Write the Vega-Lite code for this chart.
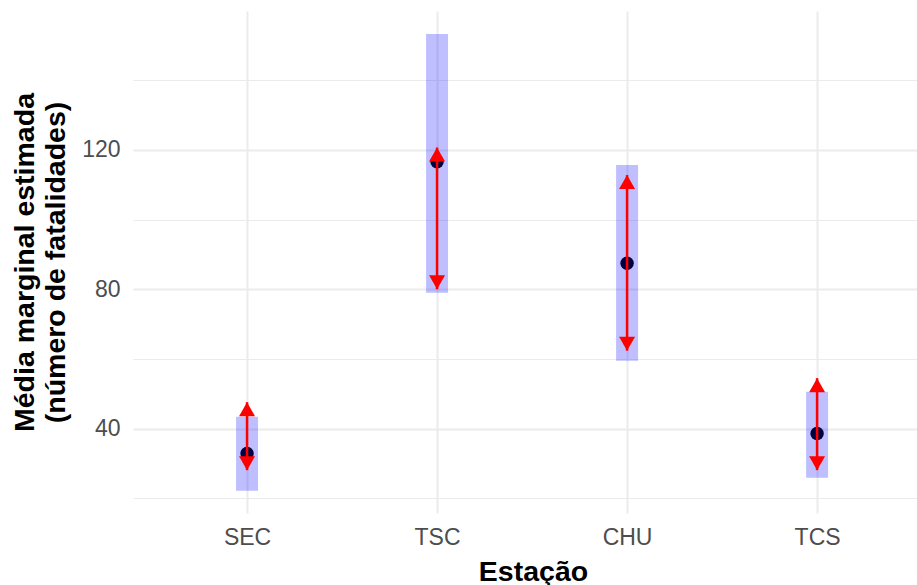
{
  "$schema": "https://vega.github.io/schema/vega-lite/v6.json",
  "width": 784,
  "height": 502,
  "autosize": {"type": "none"},
  "padding": {"left": 133, "top": 11, "right": 0, "bottom": 72},
  "background": "white",
  "config": {
    "view": {"stroke": null},
    "font": "Liberation Sans",
    "axis": {"domain": false, "ticks": false, "gridColor": "#ebebeb", "labelColor": "#4d4d4d", "labelFont": "Liberation Sans", "titleFont": "Liberation Sans", "titleColor": "black", "titleFontWeight": "bold"}
  },
  "data": {
    "values": [
      {"estacao": "SEC", "est": 32.9, "lo": 22.2, "hi": 43.4, "arrLo": 28.1, "arrHi": 47.6},
      {"estacao": "TSC", "est": 116.6, "lo": 79.0, "hi": 153.3, "arrLo": 80.0, "arrHi": 120.7},
      {"estacao": "CHU", "est": 87.5, "lo": 59.5, "hi": 115.7, "arrLo": 62.4, "arrHi": 112.8},
      {"estacao": "TCS", "est": 38.6, "lo": 25.9, "hi": 50.6, "arrLo": 28.1, "arrHi": 54.5}
    ]
  },
  "encoding": {
    "x": {
      "field": "estacao", "type": "nominal", "sort": ["SEC", "TSC", "CHU", "TCS"],
      "scale": {"type": "point", "padding": 0.563, "align": 0.533},
      "axis": {"title": "Estação", "labelAngle": 0, "labelFontSize": 23, "labelPadding": 13, "labelBaseline": "top", "titleFontSize": 28.5, "titleX": 400, "titleY": 67, "titleBaseline": "alphabetic", "titleAlign": "center", "grid": true, "gridWidth": 2}
    }
  },
  "layer": [
    {
      "mark": {"type": "point", "filled": true, "shape": "circle", "size": 180, "color": "black", "opacity": 1},
      "encoding": {
        "y": {
          "field": "est", "type": "quantitative",
          "scale": {"domain": [15.8, 159.9], "nice": false, "zero": false},
          "axis": {
            "title": ["Média marginal estimada", "(número de fatalidades)"],
            "values": [20, 40, 60, 80, 100, 120, 140],
            "labelExpr": "datum.value % 40 == 0 ? datum.label : ''",
            "labelFontSize": 23, "labelPadding": 13,
            "gridWidth": {"condition": {"test": "datum.value % 40 == 0", "value": 2}, "value": 1},
            "titleFontSize": 28.5, "titleLineHeight": 31, "titleX": -100, "titleY": 251, "titleAlign": "center", "titleBaseline": "alphabetic", "titleAngle": 270
          }
        }
      }
    },
    {
      "mark": {"type": "bar", "width": 22, "color": "blue", "opacity": 0.25},
      "encoding": {"y": {"field": "lo", "type": "quantitative"}, "y2": {"field": "hi"}}
    },
    {
      "mark": {"type": "rule", "color": "red", "strokeWidth": 2.5},
      "encoding": {"y": {"field": "arrLo", "type": "quantitative"}, "y2": {"field": "arrHi"}}
    },
    {
      "mark": {"type": "point", "filled": true, "opacity": 1, "color": "red", "size": 256, "shape": "M0,0L-1,1.75L1,1.75Z"},
      "encoding": {"y": {"field": "arrHi", "type": "quantitative"}}
    },
    {
      "mark": {"type": "point", "filled": true, "opacity": 1, "color": "red", "size": 256, "shape": "M0,0L-1,-1.75L1,-1.75Z"},
      "encoding": {"y": {"field": "arrLo", "type": "quantitative"}}
    }
  ]
}
